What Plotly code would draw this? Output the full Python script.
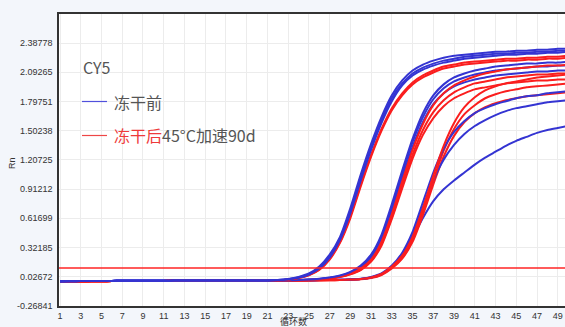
import plotly.graph_objects as go

cycles = list(range(1, 51))
x_ticks = list(range(1, 50, 2))
y_tick_vals = [-0.26841, 0.02672, 0.32185, 0.61699, 0.91212, 1.20725, 1.50238, 1.79751, 2.09265, 2.38778]
y_tick_text = ["-0.26841", "0.02672", "0.32185", "0.61699", "0.91212", "1.20725", "1.50238", "1.79751", "2.09265", "2.38778"]
threshold = 0.115

# cycles 1-20 (shared baselines)
baseline_blue = [-0.020, -0.018, -0.017, -0.016, -0.015, -0.015, -0.014, -0.014, -0.013, -0.013,
                 -0.013, -0.012, -0.012, -0.012, -0.012, -0.011, -0.011, -0.011, -0.011, -0.010]
baseline_red = [-0.026, -0.023, -0.021, -0.019, -0.018, -0.017, -0.016, -0.016, -0.015, -0.015,
                -0.015, -0.014, -0.014, -0.014, -0.014, -0.013, -0.013, -0.013, -0.013, -0.012]

# cycles 21-50
a_blue_1 = [-0.010, -0.005, 0.005, 0.025, 0.06, 0.13, 0.25, 0.43, 0.72, 1.06,
            1.37, 1.64, 1.86, 2.01, 2.11, 2.17, 2.21, 2.24, 2.26, 2.27,
            2.28, 2.29, 2.30, 2.30, 2.31, 2.31, 2.32, 2.32, 2.33, 2.33]
a_blue_2 = [-0.010, -0.006, 0.003, 0.020, 0.052, 0.115, 0.23, 0.41, 0.69, 1.02,
            1.33, 1.61, 1.83, 1.98, 2.08, 2.14, 2.18, 2.21, 2.23, 2.25,
            2.26, 2.27, 2.28, 2.28, 2.29, 2.29, 2.30, 2.30, 2.31, 2.31]
a_blue_3 = [-0.011, -0.007, 0.002, 0.018, 0.05, 0.11, 0.22, 0.40, 0.67, 1.00,
            1.31, 1.58, 1.80, 1.96, 2.06, 2.12, 2.16, 2.19, 2.21, 2.23,
            2.24, 2.25, 2.26, 2.27, 2.27, 2.28, 2.28, 2.29, 2.29, 2.30]
a_red_1 = [-0.012, -0.008, 0.000, 0.015, 0.045, 0.10, 0.21, 0.38, 0.64, 0.96,
           1.26, 1.52, 1.73, 1.88, 1.99, 2.06, 2.11, 2.15, 2.17, 2.19,
           2.20, 2.21, 2.22, 2.23, 2.23, 2.24, 2.24, 2.25, 2.25, 2.26]
a_red_2 = [-0.013, -0.009, -0.001, 0.013, 0.042, 0.095, 0.20, 0.37, 0.62, 0.94,
           1.24, 1.50, 1.71, 1.86, 1.97, 2.04, 2.09, 2.13, 2.15, 2.17,
           2.18, 2.19, 2.20, 2.21, 2.21, 2.22, 2.22, 2.23, 2.23, 2.24]

b_blue_1 = [-0.011, -0.010, -0.008, -0.005, 0.000, 0.008, 0.020, 0.040, 0.075, 0.14,
            0.25, 0.45, 0.76, 1.10, 1.42, 1.68, 1.86, 1.97, 2.04, 2.08,
            2.11, 2.13, 2.15, 2.16, 2.17, 2.18, 2.18, 2.19, 2.19, 2.20]
b_blue_2 = [-0.012, -0.011, -0.009, -0.006, -0.002, 0.005, 0.017, 0.036, 0.07, 0.13,
            0.24, 0.43, 0.73, 1.07, 1.39, 1.64, 1.82, 1.93, 2.00, 2.04,
            2.07, 2.09, 2.11, 2.12, 2.13, 2.14, 2.15, 2.15, 2.16, 2.16]
b_blue_3 = [-0.012, -0.011, -0.009, -0.007, -0.003, 0.003, 0.014, 0.032, 0.065, 0.12,
            0.22, 0.41, 0.70, 1.03, 1.34, 1.59, 1.77, 1.88, 1.95, 1.99,
            2.02, 2.04, 2.06, 2.07, 2.08, 2.09, 2.10, 2.10, 2.11, 2.11]
b_red_1 = [-0.013, -0.012, -0.010, -0.008, -0.004, 0.002, 0.012, 0.030, 0.06, 0.11,
           0.20, 0.38, 0.66, 0.99, 1.31, 1.57, 1.76, 1.88, 1.96, 2.01,
           2.05, 2.08, 2.10, 2.12, 2.13, 2.14, 2.15, 2.16, 2.16, 2.17]
b_red_2 = [-0.014, -0.013, -0.011, -0.009, -0.005, 0.001, 0.010, 0.027, 0.055, 0.10,
           0.19, 0.36, 0.63, 0.95, 1.26, 1.51, 1.69, 1.81, 1.89, 1.94,
           1.98, 2.00, 2.02, 2.04, 2.05, 2.06, 2.07, 2.07, 2.08, 2.08]
b_red_3 = [-0.014, -0.013, -0.011, -0.009, -0.006, 0.000, 0.009, 0.025, 0.052, 0.095,
           0.18, 0.34, 0.61, 0.92, 1.22, 1.46, 1.63, 1.75, 1.83, 1.88,
           1.92, 1.94, 1.96, 1.98, 1.99, 2.00, 2.01, 2.01, 2.02, 2.02]

c_red_1 = [-0.014, -0.013, -0.012, -0.011, -0.010, -0.009, -0.008, -0.006, -0.003, 0.003,
           0.018, 0.05, 0.12, 0.22, 0.40, 0.68, 1.00, 1.30, 1.52, 1.67,
           1.76, 1.83, 1.87, 1.90, 1.92, 1.94, 1.95, 1.96, 1.97, 1.98]
c_red_2 = [-0.015, -0.014, -0.013, -0.012, -0.011, -0.010, -0.009, -0.007, -0.004, 0.001,
           0.014, 0.045, 0.11, 0.21, 0.38, 0.65, 0.96, 1.24, 1.45, 1.59,
           1.68, 1.74, 1.78, 1.81, 1.83, 1.85, 1.86, 1.87, 1.88, 1.89]
c_red_3 = [-0.014, -0.013, -0.012, -0.011, -0.010, -0.009, -0.007, -0.005, -0.002, 0.005,
           0.020, 0.055, 0.13, 0.24, 0.43, 0.72, 1.05, 1.35, 1.58, 1.74,
           1.84, 1.91, 1.95, 1.98, 2.00, 2.02, 2.04, 2.05, 2.06, 2.07]
c_blue_1 = [-0.012, -0.011, -0.010, -0.009, -0.008, -0.007, -0.005, -0.003, 0.000, 0.007,
            0.025, 0.06, 0.14, 0.27, 0.48, 0.78, 1.08, 1.32, 1.49, 1.60,
            1.68, 1.73, 1.77, 1.80, 1.83, 1.85, 1.86, 1.88, 1.89, 1.90]
c_blue_2 = [-0.012, -0.011, -0.010, -0.009, -0.008, -0.007, -0.006, -0.004, -0.001, 0.005,
            0.020, 0.055, 0.13, 0.25, 0.45, 0.73, 1.00, 1.21, 1.36, 1.47,
            1.55, 1.61, 1.66, 1.70, 1.73, 1.75, 1.77, 1.79, 1.80, 1.81]
c_blue_3 = [-0.012, -0.011, -0.010, -0.009, -0.008, -0.007, -0.006, -0.004, -0.001, 0.004,
            0.018, 0.05, 0.12, 0.23, 0.42, 0.62, 0.79, 0.91, 1.00, 1.08,
            1.16, 1.23, 1.29, 1.35, 1.40, 1.44, 1.48, 1.51, 1.53, 1.55]

BLUE = "#3434d2"
RED = "#fa1e1e"

curves = [
    (baseline_blue + c_blue_3, BLUE), (baseline_red + c_red_2, RED), (baseline_blue + c_blue_2, BLUE),
    (baseline_red + c_red_1, RED), (baseline_blue + c_blue_1, BLUE), (baseline_red + c_red_3, RED),
    (baseline_red + b_red_3, RED), (baseline_blue + b_blue_3, BLUE), (baseline_red + b_red_2, RED),
    (baseline_blue + b_blue_2, BLUE), (baseline_red + b_red_1, RED), (baseline_blue + b_blue_1, BLUE),
    (baseline_red + a_red_2, RED), (baseline_red + a_red_1, RED),
    (baseline_blue + a_blue_3, BLUE), (baseline_blue + a_blue_2, BLUE), (baseline_blue + a_blue_1, BLUE),
]

fig = go.Figure()
for vals, col in curves:
    fig.add_trace(go.Scatter(x=cycles, y=vals, mode="lines",
                             line=dict(color=col, width=2, shape="spline", smoothing=0.6),
                             showlegend=False, hoverinfo="skip"))

fig.add_hline(y=threshold, line=dict(color="#ff2424", width=1.5))

W, H = 565, 327
L, R, T, B = 59, 0, 14, 21
pw, ph = W - L - R, H - T - B


def px(xp):
    return (xp - L) / pw


def py(yp):
    return (H - B - yp) / ph


fig.update_layout(
    width=W, height=H,
    margin=dict(l=L, r=R, t=T, b=B, pad=0),
    paper_bgcolor="#f3f6fb",
    plot_bgcolor="#ffffff",
    font=dict(family="Liberation Sans, Arial, sans-serif", size=9, color="#333333"),
    xaxis=dict(range=[0.9, 49.7], tickmode="array", tickvals=x_ticks,
               showgrid=True, gridcolor="#ececec", gridwidth=1,
               showline=True, linecolor="#333333", linewidth=1.5, mirror=True,
               ticks="", zeroline=False, tickfont=dict(size=9, color="#333333")),
    yaxis=dict(range=[-0.26841, 2.681], tickmode="array", tickvals=y_tick_vals, ticktext=y_tick_text,
               showgrid=True, gridcolor="#ececec", gridwidth=1,
               showline=True, linecolor="#333333", linewidth=1.5, mirror=False,
               ticks="", zeroline=False, ticklabelstandoff=3, tickfont=dict(size=9, color="#333333")),
    shapes=[
        dict(type="rect", xref="paper", yref="paper", x0=px(8), x1=px(570), y0=py(330), y1=py(6),
             fillcolor="#ffffff", line=dict(width=0), layer="below"),
        dict(type="line", xref="paper", yref="paper", x0=px(82), x1=px(107), y0=py(101.5), y1=py(101.5),
             line=dict(color="#5050dc", width=1.2)),
        dict(type="line", xref="paper", yref="paper", x0=px(82), x1=px(107), y0=py(135.5), y1=py(135.5),
             line=dict(color="#ee4646", width=1.2)),
    ],
)

cjk = "Noto Sans CJK SC, Noto Sans, sans-serif"
fig.add_annotation(x=px(81), y=py(67), xref="paper", yref="paper", xanchor="left", yanchor="middle",
                   text="CY5", showarrow=False, font=dict(family=cjk, size=16, color="#555555"))
fig.add_annotation(x=px(112), y=py(101.5), xref="paper", yref="paper", xanchor="left", yanchor="middle",
                   text="冻干前", showarrow=False, font=dict(family=cjk, size=16, color="#555555"))
fig.add_annotation(x=px(112), y=py(135), xref="paper", yref="paper", xanchor="left", yanchor="middle",
                   text="<span style='color:#ee3a3a'>冻干后</span>45°C加速90d", showarrow=False,
                   font=dict(family=cjk, size=16, color="#555555"))
fig.add_annotation(x=px(12), y=py(163), xref="paper", yref="paper", xanchor="center", yanchor="middle",
                   text="Rn", textangle=-90, showarrow=False, font=dict(size=9, color="#333333"))
fig.add_annotation(x=px(293), y=py(321), xref="paper", yref="paper", xanchor="center", yanchor="middle",
                   text="循环数", showarrow=False, font=dict(family=cjk, size=9, color="#333333"))

fig.write_html(
    "out.html",
    config={"displayModeBar": False},
    post_script="document.body.style.margin='0';document.body.style.overflow='hidden';"
                "document.body.style.background='#f3f6fb';",
)
